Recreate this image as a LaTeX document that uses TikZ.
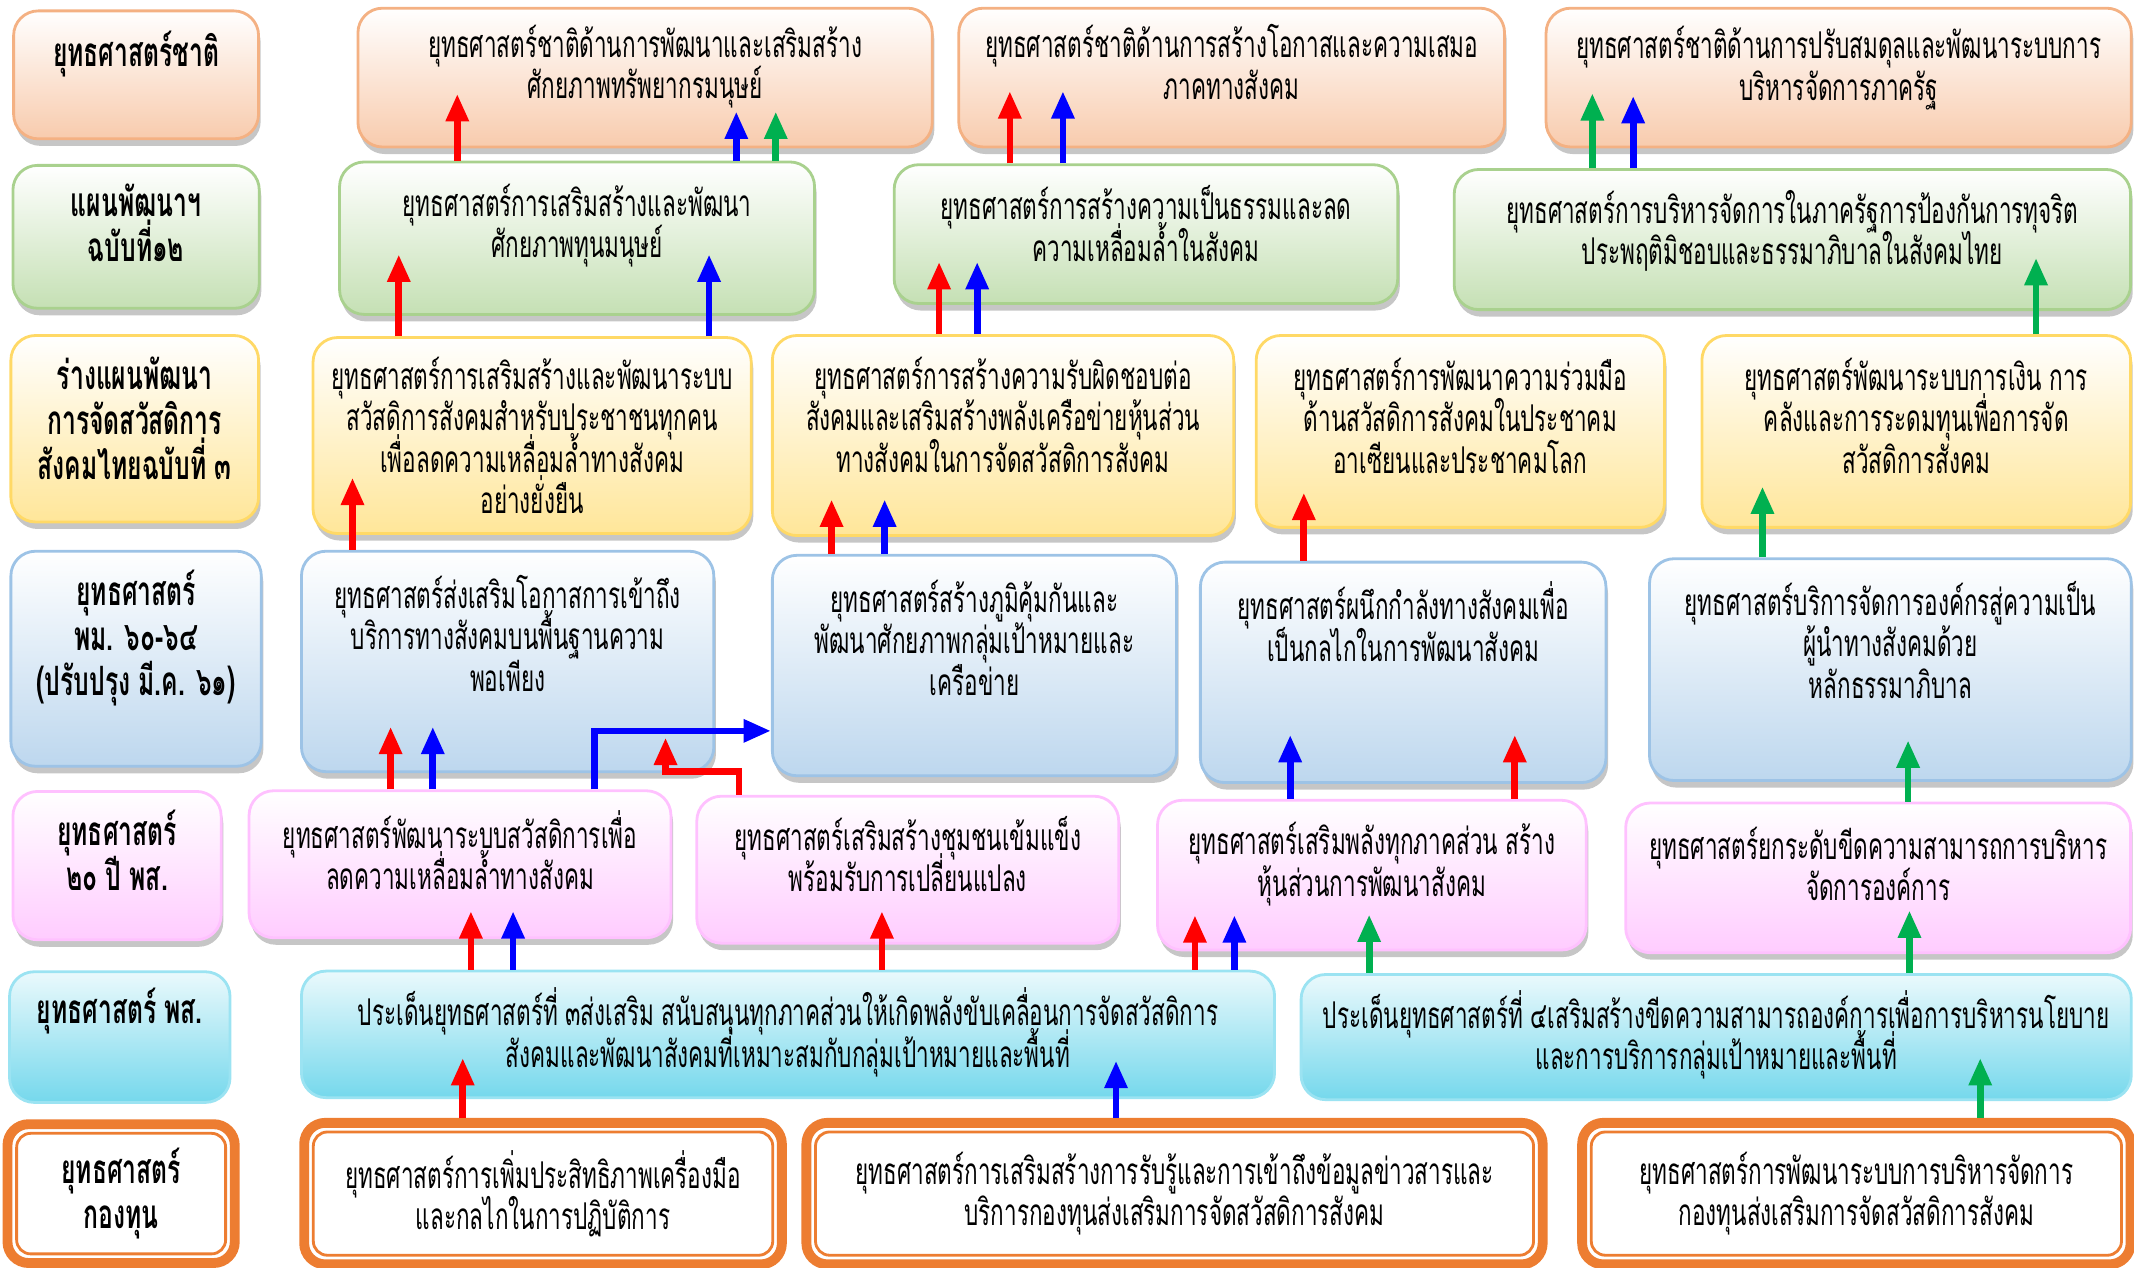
\documentclass[tikz,border=0pt]{standalone}
\usepackage{fontspec}
\setmainfont[Script=Thai,FakeStretch=0.61]{Loma}
\usepackage{tikz}
\usetikzlibrary{arrows.meta,shadows,positioning,calc}

\newcommand{\pxu}{0.01361cm}
\setlength{\lineskiplimit}{-20pt}

\definecolor{natline}{HTML}{F4B183}
\definecolor{natfill}{HTML}{F8CBAD}
\definecolor{planline}{HTML}{A9D18E}
\definecolor{planfill}{HTML}{C5E0B4}
\definecolor{draftline}{HTML}{FFD966}
\definecolor{draftfill}{HTML}{FFE699}
\definecolor{minline}{HTML}{9DC3E6}
\definecolor{minfill}{HTML}{BDD7EE}
\definecolor{twline}{HTML}{FFC1FF}
\definecolor{twfill}{HTML}{FFCCFF}
\definecolor{deptline}{HTML}{9BE3F2}
\definecolor{deptfill}{HTML}{75D8EC}
\definecolor{fundline}{HTML}{ED7D31}
\definecolor{redarr}{HTML}{FF0000}
\definecolor{bluearr}{HTML}{0000FF}
\definecolor{greenarr}{HTML}{00B050}

\begin{document}
\begin{tikzpicture}[
    x=\pxu, y=-\pxu,
    card/.style={rectangle, rounded corners=7pt, thick, align=center, font=\fontsize{10.5}{11.8}\selectfont},
    cast/.style={drop shadow={shadow xshift=0.6pt, shadow yshift=-2pt, opacity=0.45}},
    dim/.style 2 args={minimum width=#1*\pxu, minimum height=#2*\pxu},
    lift/.style={text depth=#1pt},
    head/.style={font=\fontsize{11.5}{12.8}\selectfont\bfseries},
    national/.style={card, cast, draw=natline, top color=white, bottom color=natfill},
    plan/.style={card, cast, draw=planline, top color=white, bottom color=planfill},
    draft/.style={card, cast, draw=draftline, top color=white, bottom color=draftfill},
    ministry/.style={card, cast, draw=minline, top color=white, bottom color=minfill},
    twenty/.style={card, cast, draw=twline, top color=white, bottom color=twfill},
    dept/.style={card, draw=deptline, top color=deptfill!15, bottom color=deptfill},
    fund/.style={card, rounded corners=6pt, draw=fundline, line width=2.8pt, fill=white},
    fundin/.style={draw=fundline, line width=0.8pt, rounded corners=4pt},
    arrow/.style={-{Triangle[width=6.2pt,length=7.8pt]}, line width=1.9pt},
    rarrow/.style={arrow, draw=redarr},
    barrow/.style={arrow, draw=bluearr},
    garrow/.style={arrow, draw=greenarr}
]
    \useasboundingbox (0,0) rectangle (1568,931);

    % left column
    \node[national, head, lift=15, dim={180}{94}] (l1) at (100,55) {ยุทธศาสตร์ชาติ};
    \node[plan, head, lift=8, dim={181}{105}] (l2) at (100,174) {แผนพัฒนาฯ\\ฉบับที่๑๒};
    \node[draft, head, lift=6, dim={182}{137}] (l3) at (99,315) {ร่างแผนพัฒนา\\การจัดสวัสดิการ\\สังคมไทยฉบับที่ ๓};
    \node[ministry, head, lift=15, dim={184}{158}] (l4) at (100,484) {ยุทธศาสตร์\\พม. ๖๐-๖๔\\(ปรับปรุง มี.ค. ๖๑)};
    \node[twenty, head, lift=9, dim={153}{109}] (l5) at (86,636) {ยุทธศาสตร์\\๒๐ ปี พส.};
    \node[dept, head, lift=18, dim={162}{96}] (l6) at (88,762) {ยุทธศาสตร์ พส.};
    \node[fund, head, dim={167}{102}] (l7) at (89,877) {ยุทธศาสตร์\\กองทุน};

    % national strategy
    \node[national, lift=9, dim={422}{102}] (a1) at (474,57) {ยุทธศาสตร์ชาติด้านการพัฒนาและเสริมสร้าง\\ศักยภาพทรัพยากรมนุษย์};
    \node[national, lift=9, dim={401}{102}] (a2) at (905,57) {ยุทธศาสตร์ชาติด้านการสร้างโอกาสและความเสมอ\\ภาคทางสังคม};
    \node[national, lift=8, dim={430}{102}] (a3) at (1351,57) {ยุทธศาสตร์ชาติด้านการปรับสมดุลและพัฒนาระบบการ\\บริหารจัดการภาครัฐ};

    % 12th plan
    \node[plan, lift=10, dim={349}{112}] (b1) at (424,175) {ยุทธศาสตร์การเสริมสร้างและพัฒนา\\ศักยภาพทุนมนุษย์};
    \node[plan, lift=6, dim={370}{102}] (b2) at (842,172) {ยุทธศาสตร์การสร้างความเป็นธรรมและลด\\ความเหลื่อมล้ำในสังคม};
    \node[plan, lift=7, dim={497}{103}] (b3) at (1317,176) {ยุทธศาสตร์การบริหารจัดการในภาครัฐการป้องกันการทุจริต\\ประพฤติมิชอบและธรรมาภิบาลในสังคมไทย};

    % welfare draft plan
    \node[draft, dim={322}{144}] (c1) at (391,320) {ยุทธศาสตร์การเสริมสร้างและพัฒนาระบบ\\สวัสดิการสังคมสำหรับประชาชนทุกคน\\เพื่อลดความเหลื่อมล้ำทางสังคม\\อย่างยั่งยืน};
    \node[draft, lift=12, dim={339}{147}] (c2) at (737,320) {ยุทธศาสตร์การสร้างความรับผิดชอบต่อ\\สังคมและเสริมสร้างพลังเครือข่ายหุ้นส่วน\\ทางสังคมในการจัดสวัสดิการสังคม};
    \node[draft, lift=9, dim={300}{141}] (c3) at (1073,317) {ยุทธศาสตร์การพัฒนาความร่วมมือ\\ด้านสวัสดิการสังคมในประชาคม\\อาเซียนและประชาคมโลก};
    \node[draft, lift=9, dim={315}{141}] (c4) at (1408,317) {ยุทธศาสตร์พัฒนาระบบการเงิน การ\\คลังและการระดมทุนเพื่อการจัด\\สวัสดิการสังคม};

    % ministry 60-64
    \node[ministry, lift=16, dim={303}{162}] (d1) at (373,486) {ยุทธศาสตร์ส่งเสริมโอกาสการเข้าถึง\\บริการทางสังคมบนพื้นฐานความ\\พอเพียง};
    \node[ministry, lift=16, dim={297}{162}] (d2) at (716,489) {ยุทธศาสตร์สร้างภูมิคุ้มกันและ\\พัฒนาศักยภาพกลุ่มเป้าหมายและ\\เครือข่าย};
    \node[ministry, lift=29, dim={298}{162}] (d3) at (1031,494) {ยุทธศาสตร์ผนึกกำลังทางสังคมเพื่อ\\เป็นกลไกในการพัฒนาสังคม};
    \node[ministry, lift=17, dim={354}{163}] (d4) at (1389,492) {ยุทธศาสตร์บริการจัดการองค์กรสู่ความเป็น\\ผู้นำทางสังคมด้วย\\หลักธรรมาภิบาล};

    % 20 year
    \node[twenty, lift=8, dim={310}{108}] (e1) at (338,635) {ยุทธศาสตร์พัฒนาระบบสวัสดิการเพื่อ\\ลดความเหลื่อมล้ำทางสังคม};
    \node[twenty, lift=9, dim={310}{108}] (e2) at (667,639) {ยุทธศาสตร์เสริมสร้างชุมชนเข้มแข็ง\\พร้อมรับการเปลี่ยนแปลง};
    \node[twenty, lift=9, dim={315}{110}] (e3) at (1008,643) {ยุทธศาสตร์เสริมพลังทุกภาคส่วน สร้าง\\หุ้นส่วนการพัฒนาสังคม};
    \node[twenty, lift=8, dim={371}{110}] (e4) at (1380,645) {ยุทธศาสตร์ยกระดับขีดความสามารถการบริหาร\\จัดการองค์การ};

    % department
    \node[dept, lift=4, dim={715}{93}] (f1) at (579,760) {ประเด็นยุทธศาสตร์ที่ ๓ส่งเสริม สนับสนุนทุกภาคส่วนให้เกิดพลังขับเคลื่อนการจัดสวัสดิการ\\สังคมและพัฒนาสังคมที่เหมาะสมกับกลุ่มเป้าหมายและพื้นที่};
    \node[dept, lift=4, dim={610}{92}] (f2) at (1261,762) {ประเด็นยุทธศาสตร์ที่ ๔เสริมสร้างขีดความสามารถองค์การเพื่อการบริหารนโยบาย\\และการบริการกลุ่มเป้าหมายและพื้นที่};

    % fund
    \node[fund, dim={351}{104}] (g1) at (399,877) {ยุทธศาสตร์การเพิ่มประสิทธิภาพเครื่องมือ\\และกลไกในการปฏิบัติการ};
    \node[fund, dim={541}{104}] (g2) at (863,877) {ยุทธศาสตร์การเสริมสร้างการรับรู้และการเข้าถึงข้อมูลข่าวสารและ\\บริการกองทุนส่งเสริมการจัดสวัสดิการสังคม};
    \node[fund, dim={403}{104}] (g3) at (1364,877) {ยุทธศาสตร์การพัฒนาระบบการบริหารจัดการ\\กองทุนส่งเสริมการจัดสวัสดิการสังคม};
    \draw[fundin] ([shift={(4pt,-4pt)}]l7.north west) rectangle ([shift={(-4pt,4pt)}]l7.south east);
    \draw[fundin] ([shift={(4pt,-4pt)}]g1.north west) rectangle ([shift={(-4pt,4pt)}]g1.south east);
    \draw[fundin] ([shift={(4pt,-4pt)}]g2.north west) rectangle ([shift={(-4pt,4pt)}]g2.south east);
    \draw[fundin] ([shift={(4pt,-4pt)}]g3.north west) rectangle ([shift={(-4pt,4pt)}]g3.south east);

    % plan -> national
    \draw[rarrow] (b1.north -| 336,0) -- ++(0,-49);
    \draw[barrow] (b1.north -| 541,0) -- ++(0,-36);
    \draw[garrow] (b1.north -| 570,0) -- ++(0,-36);
    \draw[rarrow] (b2.north -| 742,0) -- ++(0,-53);
    \draw[barrow] (b2.north -| 781,0) -- ++(0,-53);
    \draw[garrow] (b3.north -| 1170,0) -- ++(0,-55);
    \draw[barrow] (b3.north -| 1200,0) -- ++(0,-53);

    % draft -> plan
    \draw[rarrow] (c1.north -| 293,0) -- ++(0,-60);
    \draw[barrow] (c1.north -| 521,0) -- ++(0,-60);
    \draw[rarrow] (c2.north -| 690,0) -- ++(0,-53);
    \draw[barrow] (c2.north -| 718,0) -- ++(0,-53);
    \draw[garrow] (c4.north -| 1496,0) -- ++(0,-56);

    % ministry -> draft
    \draw[rarrow] (d1.north -| 259,0) -- ++(0,-53);
    \draw[rarrow] (d2.north -| 611,0) -- ++(0,-40);
    \draw[barrow] (d2.north -| 650,0) -- ++(0,-40);
    \draw[rarrow] (d3.north -| 958,0) -- ++(0,-50);
    \draw[garrow] (d4.north -| 1295,0) -- ++(0,-52);

    % 20 year -> ministry
    \draw[rarrow] (e1.north -| 287,0) -- ++(0,-46);
    \draw[barrow] (e1.north -| 318,0) -- ++(0,-46);
    \draw[barrow] (e1.north -| 437,0) |- ([shift={(0,48)}]d2.west);
    \draw[rarrow] (e2.north -| 543,0) -- ++(0,-17) -| ++(-54,-25);
    \draw[barrow] (e3.north -| 948,0) -- ++(0,-47);
    \draw[rarrow] (e3.north -| 1113,0) -- ++(0,-47);
    \draw[garrow] (e4.north -| 1402,0) -- ++(0,-45);

    % department -> 20 year
    \draw[rarrow] (f1.north -| 346,0) -- ++(0,-43);
    \draw[barrow] (f1.north -| 377,0) -- ++(0,-43);
    \draw[rarrow] (f1.north -| 648,0) -- ++(0,-43);
    \draw[rarrow] (f1.north -| 878,0) -- ++(0,-40);
    \draw[barrow] (f1.north -| 907,0) -- ++(0,-40);
    \draw[garrow] (f2.north -| 1006,0) -- ++(0,-43);
    \draw[garrow] (f2.north -| 1403,0) -- ++(0,-46);

    % fund -> department
    \draw[rarrow] (g1.north -| 340,0) -- ++(0,-44);
    \draw[barrow] (g2.north -| 820,0) -- ++(0,-42);
    \draw[garrow] (g3.north -| 1455,0) -- ++(0,-44);
\end{tikzpicture}
\end{document}
